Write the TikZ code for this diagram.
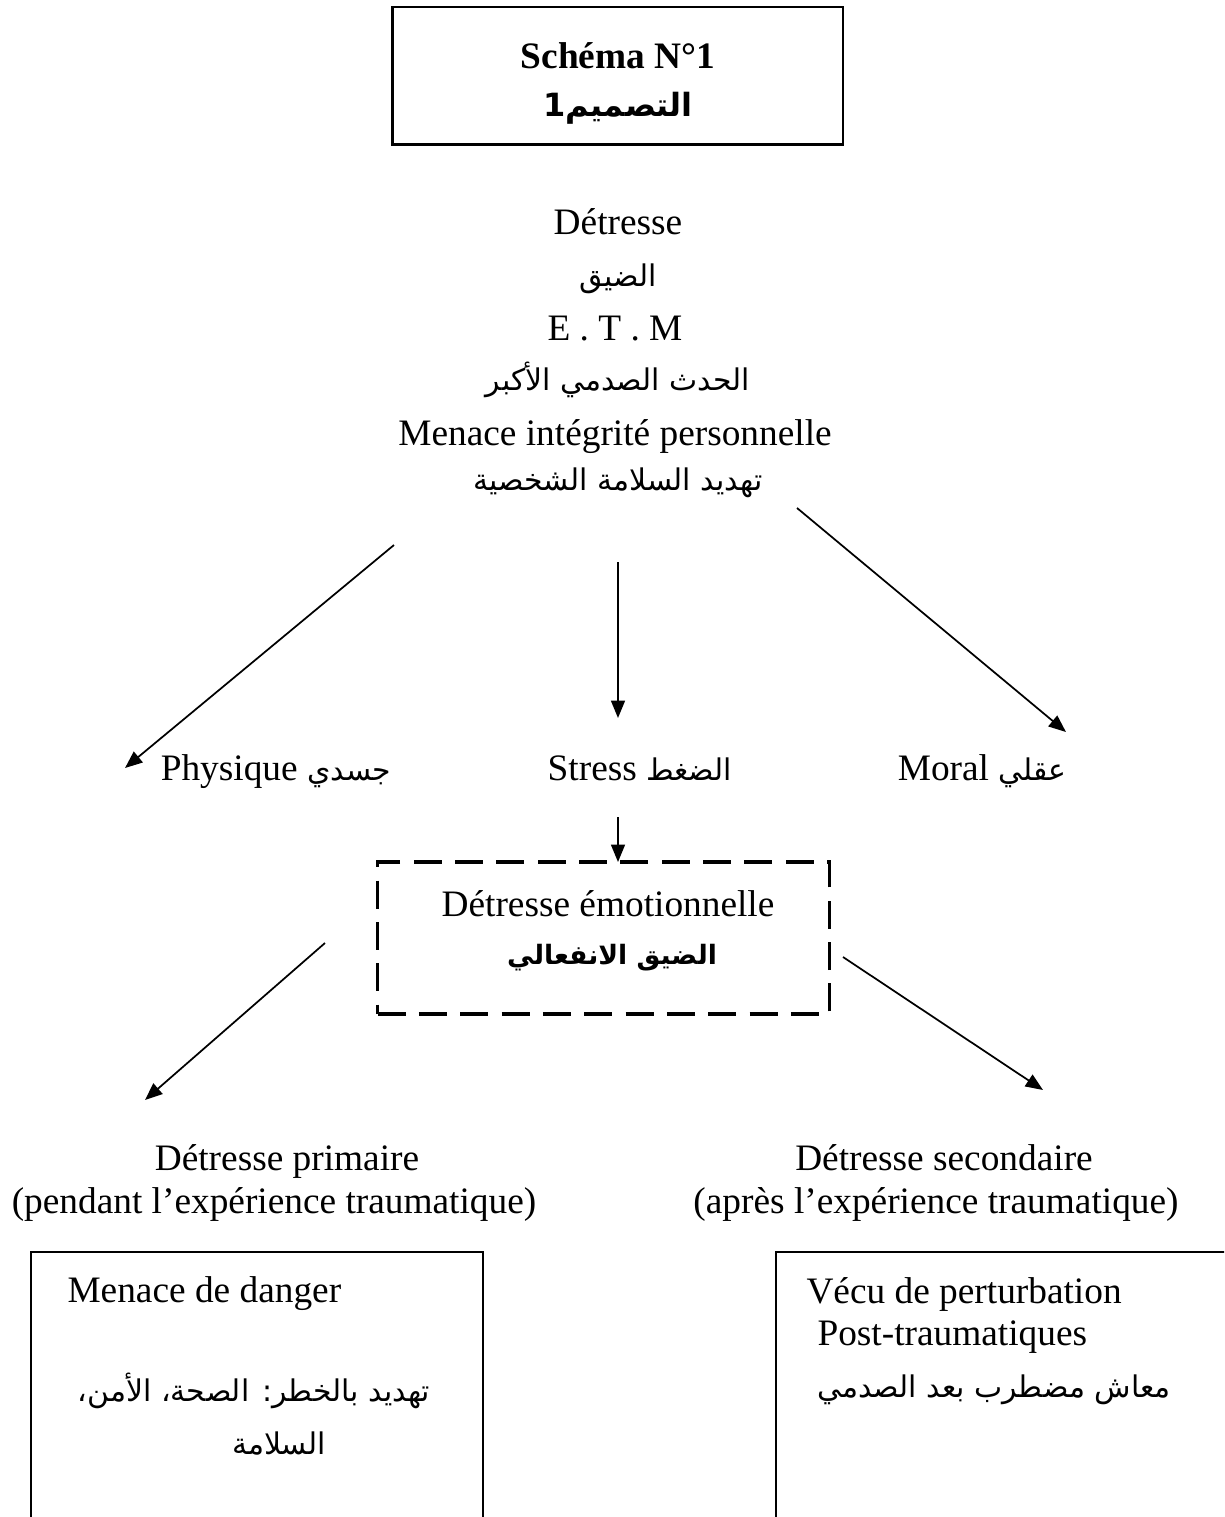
\documentclass[tikz,border=0pt]{standalone}
\usepackage{fontspec}
\setmainfont{Liberation Serif}
\newfontfamily\arabicfont[Script=Arabic]{DejaVu Sans}
\TeXXeTstate=1
\usetikzlibrary{arrows.meta}
\newcommand{\arf}{\arabicfont\fontsize{11.2}{14}\selectfont}
\newcommand{\arfb}[1]{\arabicfont\bfseries\fontsize{#1}{14}\selectfont}
\tikzset{
  txt/.style={font=\fontsize{14}{17}\selectfont, inner sep=0pt, anchor=mid},
  arr/.style={-{Triangle[length=6.5pt,width=5.2pt]}, line width=0.65pt},
  thickbox/.style={draw, line width=1.1pt},
  dashbox/.style={draw, line width=1.3pt, dash pattern=on 10.5pt off 5pt},
}
\begin{document}
\begin{tikzpicture}[x=0.375pt,y=-0.375pt]
\useasboundingbox (0,0) rectangle (1224,1517);
\clip (0,0) rectangle (1224,1517);
% title box
\node[thickbox, minimum width=169.1pt, minimum height=51.4pt, inner sep=0pt] (title) at (617.5,75.5) {};
\node[txt, font=\fontsize{14}{17}\selectfont\bfseries] (t1) at (618,62) {Schéma N°1};
\node[txt] (t2) at (618,110) {{\arfb{12}\beginR التصميم1\endR}};
% central texts
\node[txt] (c1) at (618,228) {Détresse};
\node[txt] (c2) at (618,280) {{\arf\beginR الضيق\endR}};
\node[txt] (c3) at (615,334) {E . T . M};
\node[txt] (c4) at (618,384) {{\arf\beginR الحدث الصدمي الأكبر\endR}};
\node[txt] (c5) at (615,439) {Menace intégrité personnelle};
\node[txt] (c6) at (618,484) {{\arf\beginR تهديد السلامة الشخصية\endR}};
% three arrows
\coordinate (a1s) at (394,545);
\coordinate (a1e) at (125,768);
\coordinate (a2s) at (618,562);
\coordinate (a2e) at (618,718);
\coordinate (a3s) at (797,508);
\coordinate (a3e) at (1066,732);
\draw[arr] (a1s) -- (a1e);
\draw[arr] (a2s) -- (a2e);
\draw[arr] (a3s) -- (a3e);
% row labels
\node[txt] (phys) at (276,774) {Physique {\arf\beginR جسدي\endR}};
\node[txt] (stress) at (640,774) {Stress {\arf\beginR الضغط\endR}};
\node[txt] (moral) at (982,774) {Moral {\arf\beginR عقلي\endR}};
% stress to box
\coordinate (s1) at (618,817);
\draw[arr] (s1) -- (618,862) coordinate (s2);
% dashed box
\node[dashbox, minimum width=169.5pt, minimum height=57pt, inner sep=0pt] (emo) at (603.5,938) {};
\node[txt] (e1) at (608,910) {Détresse émotionnelle};
\node[txt] (e2) at (612,958) {{\arfb{10}\beginR الضيق الانفعالي\endR}};
% two arrows
\coordinate (b1s) at (325,943);
\coordinate (b1e) at (145,1100);
\coordinate (b2s) at (843,957);
\coordinate (b2e) at (1043,1090);
\draw[arr] (b1s) -- (b1e);
\draw[arr] (b2s) -- (b2e);
% primary / secondary
\node[txt] (p1) at (287,1164) {Détresse primaire};
\node[txt] (p2) at (274,1207) {(pendant l’expérience traumatique)};
\node[txt] (q1) at (944,1164) {Détresse secondaire};
\node[txt] (q2) at (936,1207) {(après l’expérience traumatique)};
% bottom boxes
\draw[thickbox] (31,1252) rectangle (483,1560);
\draw[thickbox] (776,1252) rectangle (1260,1560);
\node[txt, anchor=west] (m1) at (67,1294) {Menace de danger};
\node[txt] (m2) at (254,1395) {{\arf\beginR تهديد بالخطر: الصحة، الأمن،\endR}};
\node[txt] (m3) at (279,1448) {{\arf\beginR السلامة\endR}};
\node[txt, anchor=west] (v1) at (806,1294) {Vécu de perturbation};
\node[txt, anchor=west] (v2) at (817,1337) {Post-traumatiques};
\node[txt] (v3) at (994,1391) {{\arf\beginR معاش مضطرب بعد الصدمي\endR}};
\end{tikzpicture}
\end{document}
